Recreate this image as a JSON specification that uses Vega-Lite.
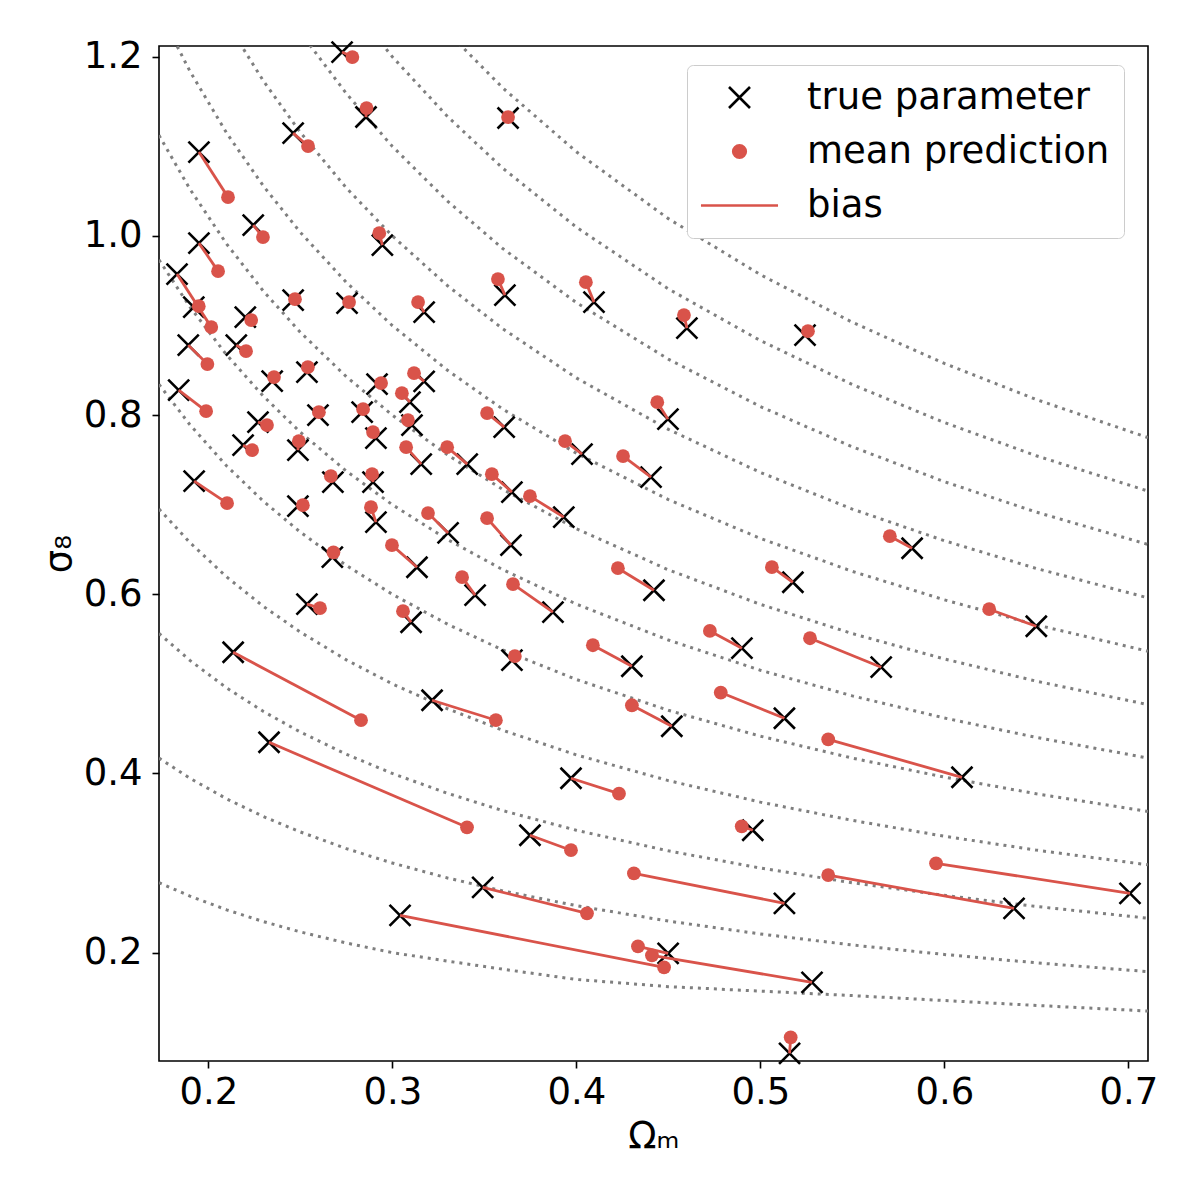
{
  "$schema": "https://vega.github.io/schema/vega-lite/v6.json",
  "width": 989,
  "height": 1015,
  "autosize": {"type": "none"},
  "padding": {"left": 159, "top": 46, "right": 52, "bottom": 139},
  "background": "white",
  "config": {
    "view": {"stroke": "black", "strokeWidth": 1.6},
    "font": "DejaVu Sans",
    "axis": {
      "grid": false, "domain": false,
      "labelFont": "DejaVu Sans", "labelFontSize": 37, "labelColor": "black",
      "tickColor": "black", "tickSize": 7, "tickWidth": 1.6,
      "titleFont": "DejaVu Sans", "titleFontSize": 37, "titleFontWeight": "normal", "titleColor": "black"
    }
  },
  "datasets": {
    "contours": [
      {"l":0.2,"om":0.1732,"s":0.2781},{"l":0.2,"om":0.19,"s":0.2631},{"l":0.2,"om":0.21,"s":0.2477},{"l":0.2,"om":0.23,"s":0.2346},{"l":0.2,"om":0.25,"s":0.2231},{"l":0.2,"om":0.275,"s":0.2107},{"l":0.2,"om":0.3,"s":0.2},{"l":0.2,"om":0.33,"s":0.1905},{"l":0.2,"om":0.36,"s":0.1815},{"l":0.2,"om":0.4,"s":0.17},{"l":0.2,"om":0.45,"s":0.162},{"l":0.2,"om":0.5,"s":0.157},{"l":0.2,"om":0.55,"s":0.152},{"l":0.2,"om":0.6,"s":0.1465},{"l":0.2,"om":0.65,"s":0.141},{"l":0.2,"om":0.7107,"s":0.1348},
      {"l":0.3,"om":0.1732,"s":0.4171},{"l":0.3,"om":0.19,"s":0.3946},{"l":0.3,"om":0.21,"s":0.3716},{"l":0.3,"om":0.23,"s":0.3518},{"l":0.3,"om":0.25,"s":0.3347},{"l":0.3,"om":0.275,"s":0.3161},{"l":0.3,"om":0.3,"s":0.3},{"l":0.3,"om":0.33,"s":0.2833},{"l":0.3,"om":0.36,"s":0.2689},{"l":0.3,"om":0.4,"s":0.2524},{"l":0.3,"om":0.45,"s":0.2352},{"l":0.3,"om":0.5,"s":0.2208},{"l":0.3,"om":0.55,"s":0.2085},{"l":0.3,"om":0.6,"s":0.1979},{"l":0.3,"om":0.65,"s":0.1886},{"l":0.3,"om":0.7107,"s":0.1788},
      {"l":0.4,"om":0.1732,"s":0.5562},{"l":0.4,"om":0.19,"s":0.5262},{"l":0.4,"om":0.21,"s":0.4954},{"l":0.4,"om":0.23,"s":0.4691},{"l":0.4,"om":0.25,"s":0.4462},{"l":0.4,"om":0.275,"s":0.4214},{"l":0.4,"om":0.3,"s":0.4},{"l":0.4,"om":0.33,"s":0.3778},{"l":0.4,"om":0.36,"s":0.3585},{"l":0.4,"om":0.4,"s":0.3366},{"l":0.4,"om":0.45,"s":0.3136},{"l":0.4,"om":0.5,"s":0.2944},{"l":0.4,"om":0.55,"s":0.278},{"l":0.4,"om":0.6,"s":0.2639},{"l":0.4,"om":0.65,"s":0.2515},{"l":0.4,"om":0.7107,"s":0.2384},
      {"l":0.5,"om":0.1732,"s":0.6952},{"l":0.5,"om":0.19,"s":0.6577},{"l":0.5,"om":0.21,"s":0.6193},{"l":0.5,"om":0.23,"s":0.5864},{"l":0.5,"om":0.25,"s":0.5578},{"l":0.5,"om":0.275,"s":0.5268},{"l":0.5,"om":0.3,"s":0.5},{"l":0.5,"om":0.33,"s":0.4722},{"l":0.5,"om":0.36,"s":0.4482},{"l":0.5,"om":0.4,"s":0.4207},{"l":0.5,"om":0.45,"s":0.392},{"l":0.5,"om":0.5,"s":0.368},{"l":0.5,"om":0.55,"s":0.3476},{"l":0.5,"om":0.6,"s":0.3299},{"l":0.5,"om":0.65,"s":0.3144},{"l":0.5,"om":0.7107,"s":0.298},
      {"l":0.6,"om":0.1732,"s":0.8343},{"l":0.6,"om":0.19,"s":0.7892},{"l":0.6,"om":0.21,"s":0.7432},{"l":0.6,"om":0.23,"s":0.7037},{"l":0.6,"om":0.25,"s":0.6694},{"l":0.6,"om":0.275,"s":0.6322},{"l":0.6,"om":0.3,"s":0.6},{"l":0.6,"om":0.33,"s":0.5666},{"l":0.6,"om":0.36,"s":0.5378},{"l":0.6,"om":0.4,"s":0.5049},{"l":0.6,"om":0.45,"s":0.4705},{"l":0.6,"om":0.5,"s":0.4416},{"l":0.6,"om":0.55,"s":0.4171},{"l":0.6,"om":0.6,"s":0.3959},{"l":0.6,"om":0.65,"s":0.3773},{"l":0.6,"om":0.7107,"s":0.3576},
      {"l":0.7,"om":0.1732,"s":0.9733},{"l":0.7,"om":0.19,"s":0.9208},{"l":0.7,"om":0.21,"s":0.867},{"l":0.7,"om":0.23,"s":0.821},{"l":0.7,"om":0.25,"s":0.7809},{"l":0.7,"om":0.275,"s":0.7375},{"l":0.7,"om":0.3,"s":0.7},{"l":0.7,"om":0.33,"s":0.6611},{"l":0.7,"om":0.36,"s":0.6275},{"l":0.7,"om":0.4,"s":0.589},{"l":0.7,"om":0.45,"s":0.5489},{"l":0.7,"om":0.5,"s":0.5152},{"l":0.7,"om":0.55,"s":0.4866},{"l":0.7,"om":0.6,"s":0.4619},{"l":0.7,"om":0.65,"s":0.4402},{"l":0.7,"om":0.7107,"s":0.4172},
      {"l":0.8,"om":0.1732,"s":1.1123},{"l":0.8,"om":0.19,"s":1.0523},{"l":0.8,"om":0.21,"s":0.9909},{"l":0.8,"om":0.23,"s":0.9382},{"l":0.8,"om":0.25,"s":0.8925},{"l":0.8,"om":0.275,"s":0.8429},{"l":0.8,"om":0.3,"s":0.8},{"l":0.8,"om":0.33,"s":0.7555},{"l":0.8,"om":0.36,"s":0.7171},{"l":0.8,"om":0.4,"s":0.6732},{"l":0.8,"om":0.45,"s":0.6273},{"l":0.8,"om":0.5,"s":0.5888},{"l":0.8,"om":0.55,"s":0.5561},{"l":0.8,"om":0.6,"s":0.5278},{"l":0.8,"om":0.65,"s":0.503},{"l":0.8,"om":0.7107,"s":0.4768},
      {"l":0.9,"om":0.1732,"s":1.2514},{"l":0.9,"om":0.19,"s":1.1839},{"l":0.9,"om":0.21,"s":1.1147},{"l":0.9,"om":0.23,"s":1.0555},{"l":0.9,"om":0.25,"s":1.004},{"l":0.9,"om":0.275,"s":0.9482},{"l":0.9,"om":0.3,"s":0.9},{"l":0.9,"om":0.33,"s":0.85},{"l":0.9,"om":0.36,"s":0.8067},{"l":0.9,"om":0.4,"s":0.7574},{"l":0.9,"om":0.45,"s":0.7057},{"l":0.9,"om":0.5,"s":0.6624},{"l":0.9,"om":0.55,"s":0.6256},{"l":0.9,"om":0.6,"s":0.5938},{"l":0.9,"om":0.65,"s":0.5659},{"l":0.9,"om":0.7107,"s":0.5364},
      {"l":1.0,"om":0.21,"s":1.2386},{"l":1.0,"om":0.23,"s":1.1728},{"l":1.0,"om":0.25,"s":1.1156},{"l":1.0,"om":0.275,"s":1.0536},{"l":1.0,"om":0.3,"s":1.0},{"l":1.0,"om":0.33,"s":0.9444},{"l":1.0,"om":0.36,"s":0.8964},{"l":1.0,"om":0.4,"s":0.8415},{"l":1.0,"om":0.45,"s":0.7841},{"l":1.0,"om":0.5,"s":0.736},{"l":1.0,"om":0.55,"s":0.6951},{"l":1.0,"om":0.6,"s":0.6598},{"l":1.0,"om":0.65,"s":0.6288},{"l":1.0,"om":0.7107,"s":0.596},
      {"l":1.1,"om":0.25,"s":1.2272},{"l":1.1,"om":0.275,"s":1.159},{"l":1.1,"om":0.3,"s":1.1},{"l":1.1,"om":0.33,"s":1.0388},{"l":1.1,"om":0.36,"s":0.986},{"l":1.1,"om":0.4,"s":0.9256},{"l":1.1,"om":0.45,"s":0.8625},{"l":1.1,"om":0.5,"s":0.8096},{"l":1.1,"om":0.55,"s":0.7646},{"l":1.1,"om":0.6,"s":0.7257},{"l":1.1,"om":0.65,"s":0.6917},{"l":1.1,"om":0.7107,"s":0.6556},
      {"l":1.2,"om":0.275,"s":1.2643},{"l":1.2,"om":0.3,"s":1.2},{"l":1.2,"om":0.33,"s":1.1333},{"l":1.2,"om":0.36,"s":1.0756},{"l":1.2,"om":0.4,"s":1.0098},{"l":1.2,"om":0.45,"s":0.9409},{"l":1.2,"om":0.5,"s":0.8832},{"l":1.2,"om":0.55,"s":0.8341},{"l":1.2,"om":0.6,"s":0.7917},{"l":1.2,"om":0.65,"s":0.7546},{"l":1.2,"om":0.7107,"s":0.7152},
      {"l":1.3,"om":0.33,"s":1.2277},{"l":1.3,"om":0.36,"s":1.1653},{"l":1.3,"om":0.4,"s":1.0939},{"l":1.3,"om":0.45,"s":1.0193},{"l":1.3,"om":0.5,"s":0.9568},{"l":1.3,"om":0.55,"s":0.9036},{"l":1.3,"om":0.6,"s":0.8577},{"l":1.3,"om":0.65,"s":0.8174},{"l":1.3,"om":0.7107,"s":0.7748}
    ],
    "pairs": [
      {"ot":0.2727,"st":1.2052,"op":0.2783,"sp":1.1997},
      {"ot":0.2857,"st":1.1327,"op":0.2860,"sp":1.1427},
      {"ot":0.2461,"st":1.1148,"op":0.2542,"sp":1.1003},
      {"ot":0.1949,"st":1.0936,"op":0.2107,"sp":1.0433},
      {"ot":0.2244,"st":1.0121,"op":0.2297,"sp":0.9987},
      {"ot":0.1949,"st":0.9920,"op":0.2053,"sp":0.9607},
      {"ot":0.2946,"st":0.9898,"op":0.2929,"sp":1.0031},
      {"ot":0.1830,"st":0.9574,"op":0.2016,"sp":0.8982},
      {"ot":0.1921,"st":0.9205,"op":0.1948,"sp":0.9216},
      {"ot":0.2201,"st":0.9094,"op":0.2233,"sp":0.9061},
      {"ot":0.2461,"st":0.9283,"op":0.2471,"sp":0.9294},
      {"ot":0.2754,"st":0.9250,"op":0.2765,"sp":0.9261},
      {"ot":0.3173,"st":0.9149,"op":0.3140,"sp":0.9261},
      {"ot":0.1891,"st":0.8781,"op":0.1995,"sp":0.8569},
      {"ot":0.2152,"st":0.8781,"op":0.2205,"sp":0.8714},
      {"ot":0.2347,"st":0.8379,"op":0.2357,"sp":0.8424},
      {"ot":0.2536,"st":0.8479,"op":0.2541,"sp":0.8535},
      {"ot":0.2917,"st":0.8345,"op":0.2939,"sp":0.8357},
      {"ot":0.3173,"st":0.8376,"op":0.3118,"sp":0.8468},
      {"ot":0.1839,"st":0.8278,"op":0.1988,"sp":0.8044},
      {"ot":0.2270,"st":0.7921,"op":0.2319,"sp":0.7888},
      {"ot":0.2596,"st":0.7999,"op":0.2601,"sp":0.8032},
      {"ot":0.2836,"st":0.8033,"op":0.2841,"sp":0.8066},
      {"ot":0.3096,"st":0.8144,"op":0.3052,"sp":0.8245},
      {"ot":0.3107,"st":0.7888,"op":0.3085,"sp":0.7944},
      {"ot":0.2189,"st":0.7664,"op":0.2238,"sp":0.7609},
      {"ot":0.2487,"st":0.7609,"op":0.2492,"sp":0.7709},
      {"ot":0.2911,"st":0.7742,"op":0.2895,"sp":0.7810},
      {"ot":0.3157,"st":0.7452,"op":0.3075,"sp":0.7642},
      {"ot":0.3407,"st":0.7452,"op":0.3298,"sp":0.7642},
      {"ot":0.3608,"st":0.7865,"op":0.3515,"sp":0.8022},
      {"ot":0.3650,"st":0.7140,"op":0.3541,"sp":0.7341},
      {"ot":0.2677,"st":0.7251,"op":0.2666,"sp":0.7318},
      {"ot":0.2895,"st":0.7251,"op":0.2890,"sp":0.7340},
      {"ot":0.1923,"st":0.7262,"op":0.2102,"sp":0.7017},
      {"ot":0.2487,"st":0.6983,"op":0.2514,"sp":0.6994},
      {"ot":0.2911,"st":0.6805,"op":0.2884,"sp":0.6972},
      {"ot":0.3303,"st":0.6685,"op":0.3194,"sp":0.6906},
      {"ot":0.3645,"st":0.6548,"op":0.3515,"sp":0.6849},
      {"ot":0.2674,"st":0.6414,"op":0.2680,"sp":0.6468},
      {"ot":0.3134,"st":0.6302,"op":0.2998,"sp":0.6548},
      {"ot":0.3450,"st":0.5990,"op":0.3379,"sp":0.6191},
      {"ot":0.2536,"st":0.5889,"op":0.2607,"sp":0.5845},
      {"ot":0.3102,"st":0.5688,"op":0.3058,"sp":0.5811},
      {"ot":0.2135,"st":0.5353,"op":0.2830,"sp":0.4594},
      {"ot":0.3216,"st":0.4817,"op":0.3563,"sp":0.4594},
      {"ot":0.2330,"st":0.4348,"op":0.3406,"sp":0.3399},
      {"ot":0.4498,"st":0.7955,"op":0.4440,"sp":0.8144},
      {"ot":0.4031,"st":0.7564,"op":0.3939,"sp":0.7709},
      {"ot":0.4406,"st":0.7307,"op":0.4254,"sp":0.7542},
      {"ot":0.3932,"st":0.6861,"op":0.3748,"sp":0.7095},
      {"ot":0.4422,"st":0.6045,"op":0.4226,"sp":0.6291},
      {"ot":0.5177,"st":0.6134,"op":0.5063,"sp":0.6302},
      {"ot":0.3873,"st":0.5800,"op":0.3656,"sp":0.6112},
      {"ot":0.4302,"st":0.5196,"op":0.4090,"sp":0.5431},
      {"ot":0.4900,"st":0.5398,"op":0.4726,"sp":0.5591},
      {"ot":0.3650,"st":0.5264,"op":0.3666,"sp":0.5309},
      {"ot":0.5657,"st":0.5186,"op":0.5270,"sp":0.5509},
      {"ot":0.4519,"st":0.4527,"op":0.4302,"sp":0.4761},
      {"ot":0.5131,"st":0.4616,"op":0.4785,"sp":0.4903},
      {"ot":0.5825,"st":0.6514,"op":0.5704,"sp":0.6648},
      {"ot":0.6500,"st":0.5643,"op":0.6244,"sp":0.5833},
      {"ot":0.6096,"st":0.3957,"op":0.5369,"sp":0.4381},
      {"ot":0.7009,"st":0.2662,"op":0.5955,"sp":0.2997},
      {"ot":0.6379,"st":0.2494,"op":0.5369,"sp":0.2866},
      {"ot":0.3971,"st":0.3946,"op":0.4232,"sp":0.3774},
      {"ot":0.4959,"st":0.3366,"op":0.4899,"sp":0.3410},
      {"ot":0.3748,"st":0.3310,"op":0.3971,"sp":0.3143},
      {"ot":0.5131,"st":0.2550,"op":0.4313,"sp":0.2885},
      {"ot":0.3491,"st":0.2729,"op":0.4058,"sp":0.2439},
      {"ot":0.3042,"st":0.2416,"op":0.4477,"sp":0.1836},
      {"ot":0.5281,"st":0.1668,"op":0.4411,"sp":0.1970},
      {"ot":0.4499,"st":0.1992,"op":0.4335,"sp":0.2070},
      {"ot":0.3629,"st":1.1316,"op":0.3629,"sp":1.1327},
      {"ot":0.3612,"st":0.9339,"op":0.3574,"sp":0.9518},
      {"ot":0.4096,"st":0.9261,"op":0.4052,"sp":0.9484},
      {"ot":0.4601,"st":0.8971,"op":0.4585,"sp":0.9116},
      {"ot":0.5243,"st":0.8893,"op":0.5259,"sp":0.8937},
      {"ot":0.5159,"st":0.0876,"op":0.5165,"sp":0.1054}
    ]
  },
  "layer": [
    {
      "data": {"name": "contours"},
      "mark": {"type": "line", "color": "#7f7f7f", "strokeWidth": 3, "strokeDash": [3, 5], "strokeCap": "butt", "clip": true},
      "encoding": {
        "x": {"field": "om", "type": "quantitative", "scale": {"domain": [0.1732, 0.7107], "nice": false, "zero": false},
              "axis": {"values": [0.2, 0.3, 0.4, 0.5, 0.6, 0.7], "format": ".1f", "title": "Ωₘ", "labelPadding": 6, "titlePadding": 8}},
        "y": {"field": "s", "type": "quantitative", "scale": {"domain": [0.079, 1.212], "nice": false, "zero": false},
              "axis": {"values": [0.2, 0.4, 0.6, 0.8, 1.0, 1.2], "format": ".1f", "title": "σ₈", "labelPadding": 10, "titlePadding": 5}},
        "detail": {"field": "l", "type": "nominal"}
      }
    },
    {
      "data": {"name": "pairs"},
      "mark": {"type": "point", "filled": false, "strokeWidth": 2.6, "size": 441, "opacity": 1},
      "encoding": {
        "x": {"field": "ot", "type": "quantitative", "scale": {"domain": [0.1732, 0.7107], "nice": false, "zero": false},
              "axis": {"values": [0.2, 0.3, 0.4, 0.5, 0.6, 0.7], "format": ".1f", "title": "Ωₘ", "labelPadding": 6, "titlePadding": 8}},
        "y": {"field": "st", "type": "quantitative", "scale": {"domain": [0.079, 1.212], "nice": false, "zero": false},
              "axis": {"values": [0.2, 0.4, 0.6, 0.8, 1.0, 1.2], "format": ".1f", "title": "σ₈", "labelPadding": 10, "titlePadding": 5}},
        "shape": {
          "datum": "true parameter", "type": "nominal",
          "scale": {"domain": ["true parameter", "mean prediction", "bias"], "range": ["M-1,-1L1,1M-1,1L1,-1", "M-0.6,0A0.6,0.6,0,1,1,0.6,0A0.6,0.6,0,1,1,-0.6,0Z", "M-3.67,0L3.67,0"]},
          "legend": {
            "title": null, "orient": "none", "legendX": 528, "legendY": 19,
            "padding": 14, "fillColor": "white", "strokeColor": "#cccccc", "cornerRadius": 6,
            "labelFont": "DejaVu Sans", "labelFontSize": 37, "labelColor": "black", "labelLimit": 1000,
            "symbolSize": 441, "symbolOffset": 20, "labelOffset": 49, "rowPadding": 16,
            "symbolStrokeWidth": 2.6, "symbolFillColor": "transparent", "symbolStrokeColor": "black", "symbolOpacity": 1
          }
        },
        "stroke": {
          "datum": "true parameter", "type": "nominal",
          "scale": {"domain": ["true parameter", "mean prediction", "bias"], "range": ["black", "#d9534a", "#d9534a"]},
          "legend": {
            "title": null, "orient": "none", "legendX": 528, "legendY": 19,
            "padding": 14, "fillColor": "white", "strokeColor": "#cccccc", "cornerRadius": 6,
            "labelFont": "DejaVu Sans", "labelFontSize": 37, "labelColor": "black", "labelLimit": 1000,
            "symbolSize": 441, "symbolOffset": 20, "labelOffset": 49, "rowPadding": 16,
            "symbolStrokeWidth": 2.6, "symbolFillColor": "transparent", "symbolStrokeColor": "black", "symbolOpacity": 1
          }
        },
        "fill": {
          "datum": "true parameter", "type": "nominal",
          "scale": {"domain": ["true parameter", "mean prediction", "bias"], "range": ["transparent", "#d9534a", "transparent"]},
          "legend": {
            "title": null, "orient": "none", "legendX": 528, "legendY": 19,
            "padding": 14, "fillColor": "white", "strokeColor": "#cccccc", "cornerRadius": 6,
            "labelFont": "DejaVu Sans", "labelFontSize": 37, "labelColor": "black", "labelLimit": 1000,
            "symbolSize": 441, "symbolOffset": 20, "labelOffset": 49, "rowPadding": 16,
            "symbolStrokeWidth": 2.6, "symbolFillColor": "transparent", "symbolStrokeColor": "black", "symbolOpacity": 1
          }
        }
      }
    },
    {
      "data": {"name": "pairs"},
      "mark": {"type": "rule", "color": "#d9534a", "strokeWidth": 2.8},
      "encoding": {
        "x": {"field": "op", "type": "quantitative", "scale": {"domain": [0.1732, 0.7107], "nice": false, "zero": false},
              "axis": {"values": [0.2, 0.3, 0.4, 0.5, 0.6, 0.7], "format": ".1f", "title": "Ωₘ", "labelPadding": 6, "titlePadding": 8}},
        "y": {"field": "sp", "type": "quantitative", "scale": {"domain": [0.079, 1.212], "nice": false, "zero": false},
              "axis": {"values": [0.2, 0.4, 0.6, 0.8, 1.0, 1.2], "format": ".1f", "title": "σ₈", "labelPadding": 10, "titlePadding": 5}},
        "x2": {"field": "ot"},
        "y2": {"field": "st"}
      }
    },
    {
      "data": {"name": "pairs"},
      "mark": {"type": "point", "filled": true, "shape": "circle", "color": "#d9534a", "size": 190, "opacity": 1},
      "encoding": {
        "x": {"field": "op", "type": "quantitative", "scale": {"domain": [0.1732, 0.7107], "nice": false, "zero": false},
              "axis": {"values": [0.2, 0.3, 0.4, 0.5, 0.6, 0.7], "format": ".1f", "title": "Ωₘ", "labelPadding": 6, "titlePadding": 8}},
        "y": {"field": "sp", "type": "quantitative", "scale": {"domain": [0.079, 1.212], "nice": false, "zero": false},
              "axis": {"values": [0.2, 0.4, 0.6, 0.8, 1.0, 1.2], "format": ".1f", "title": "σ₈", "labelPadding": 10, "titlePadding": 5}}
      }
    }
  ]
}
